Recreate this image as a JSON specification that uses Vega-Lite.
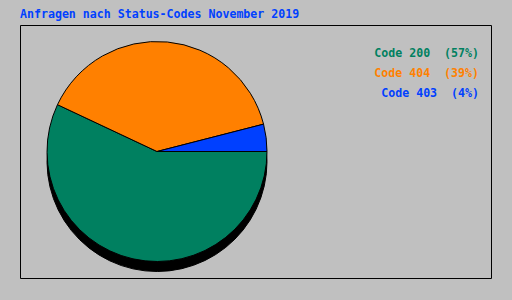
{
  "$schema": "https://vega.github.io/schema/vega-lite/v6.json",
  "width": 471,
  "height": 253,
  "autosize": {"type": "none"},
  "padding": {"left": 20, "top": 25, "right": 21, "bottom": 22},
  "background": "#c0c0c0",
  "title": {
    "text": "Anfragen nach Status-Codes November 2019",
    "anchor": "start",
    "frame": "group",
    "offset": 4,
    "font": "DejaVu Sans Mono",
    "fontSize": 11.6,
    "fontWeight": "bold",
    "color": "#0040ff"
  },
  "config": {
    "view": {"stroke": "#000000", "strokeWidth": 1, "fill": null}
  },
  "data": {
    "values": [
      {"code": "200", "share": 57, "rank": 1, "label": "Code 200 \u00a0(57%)"},
      {"code": "404", "share": 39, "rank": 2, "label": "Code 404 \u00a0(39%)"},
      {"code": "403", "share": 4, "rank": 3, "label": "Code 403 \u00a0(4%)"}
    ]
  },
  "layer": [
    {
      "mark": {"type": "arc", "radius": 110, "fill": "#000000", "stroke": "#000000", "strokeWidth": 1, "yOffset": 10},
      "encoding": {
        "theta": {"field": "share", "type": "quantitative", "stack": true, "scale": {"range": [1.5708, 7.854]}},
        "order": {"field": "rank", "type": "quantitative"},
        "x": {"datum": 0.2909, "type": "quantitative", "scale": {"domain": [0, 1]}, "axis": null}
      }
    },
    {
      "mark": {"type": "arc", "radius": 110, "stroke": "#000000", "strokeWidth": 1},
      "encoding": {
        "theta": {"field": "share", "type": "quantitative", "stack": true, "scale": {"range": [1.5708, 7.854]}},
        "order": {"field": "rank", "type": "quantitative"},
        "color": {"field": "code", "type": "nominal", "scale": {"domain": ["200", "404", "403"], "range": ["#008060", "#ff8000", "#0040ff"]}, "legend": null},
        "x": {"datum": 0.2909, "type": "quantitative", "scale": {"domain": [0, 1]}, "axis": null}
      }
    },
    {
      "mark": {"type": "text", "align": "right", "baseline": "alphabetic", "font": "DejaVu Sans Mono", "fontSize": 11.6, "fontWeight": "bold"},
      "encoding": {
        "text": {"field": "label"},
        "x": {"datum": 0.9745, "type": "quantitative", "scale": {"domain": [0, 1]}, "axis": null},
        "y": {"field": "code", "type": "nominal", "sort": ["200", "404", "403"], "scale": {"type": "point", "range": [32, 72], "padding": 0}, "axis": null},
        "color": {"field": "code", "type": "nominal", "legend": null}
      }
    }
  ]
}
